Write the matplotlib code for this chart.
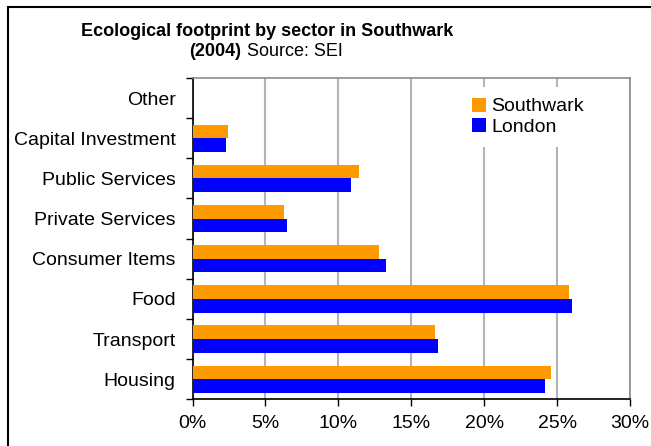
import matplotlib
matplotlib.use("Agg")
import matplotlib.pyplot as plt
import matplotlib.patches as patches
import numpy as np

# ----------------------------------------------------------
# Data
# ----------------------------------------------------------
sectors = ["Housing", "Transport", "Food", "Consumer Items",
           "Private Services", "Public Services", "Capital Investment", "Other"]
southwark = [24.6, 16.6, 25.8, 12.8, 6.3, 11.4, 2.4, 0.0]
london    = [24.2, 16.8, 26.0, 13.3, 6.5, 10.9, 2.3, 0.0]
series_names = ["Southwark", "London"]
xticks_pct = [0, 5, 10, 15, 20, 25, 30]

plt.rcParams.update({
    'font.family': ['Liberation Sans', 'DejaVu Sans'],
    'font.size': 14,
})

fig = plt.figure(figsize=(6.51, 4.46), dpi=100)
W, H = 651, 446
ax = fig.add_axes([192.5 / W, 1 - 399.3 / H, (630 - 192.5) / W, (399.3 - 78) / H])

y = np.arange(len(sectors))
h = 0.34
ax.barh(y + h / 2, southwark, height=h, color='#FF9900', label=series_names[0], zorder=3)
ax.barh(y - h / 2, london, height=h, color='#0000FF', label=series_names[1], zorder=3)

ax.set_xlim(0, 30)
ax.set_ylim(-0.5, len(sectors) - 0.5)
ax.set_xticks(xticks_pct)
ax.set_xticklabels([f"{v}%" for v in xticks_pct])
ax.tick_params(axis='x', direction='out', length=5, width=1, pad=6, color='black')

# boundary ticks (major), labels at category centres (minor)
ax.set_yticks(np.arange(-0.5, len(sectors), 1.0))
ax.set_yticklabels([])
ax.set_yticks(y, minor=True)
ax.set_yticklabels(sectors, minor=True)
ax.tick_params(axis='y', which='major', direction='out', length=5, width=1, color='black')
ax.tick_params(axis='y', which='minor', length=0, pad=12)

ax.grid(axis='x', color='#b4b4b4', linewidth=1.5, zorder=0)
ax.set_axisbelow(True)
for side in ['left', 'bottom']:
    ax.spines[side].set_color('black')
    ax.spines[side].set_linewidth(1.2)
for side in ['top', 'right']:
    ax.spines[side].set_color('#8c8c8c')
    ax.spines[side].set_linewidth(1.2)

leg = ax.legend(loc='upper left', bbox_to_anchor=((455 - 192.5) / (630 - 192.5), 0.99),
                frameon=True, fancybox=False, framealpha=1, edgecolor='none',
                facecolor='white', handlelength=0.72, handleheight=0.72,
                handletextpad=0.3, labelspacing=0.15, borderpad=0.55, borderaxespad=0.3)

# Title: two lines, second line mixes bold and normal
fig.text(267 / W, 1 - 32 / H, "Ecological footprint by sector in Southwark",
         fontsize=13, fontweight='bold', ha='center', va='center')
y2 = 1 - 51 / H
t1 = fig.text(0, y2, "(2004)", fontsize=13, fontweight='bold', ha='left', va='center')
t2 = fig.text(0, y2, " Source: SEI", fontsize=13, ha='left', va='center')
fig.canvas.draw()
r = fig.canvas.get_renderer()
w1 = t1.get_window_extent(r).width
w2 = t2.get_window_extent(r).width
x0 = 266 - (w1 + w2) / 2
t1.set_x(x0 / W)
t2.set_x((x0 + w1) / W)

# outer chart frame (cropped at right and bottom in the reference)
fig.patches.append(patches.Rectangle((8 / W, -0.1), 2.0, 1 - 7 / H + 0.1,
                                     transform=fig.transFigure, fill=False,
                                     edgecolor='black', linewidth=1.5))

fig.savefig("out.png", dpi=100)
